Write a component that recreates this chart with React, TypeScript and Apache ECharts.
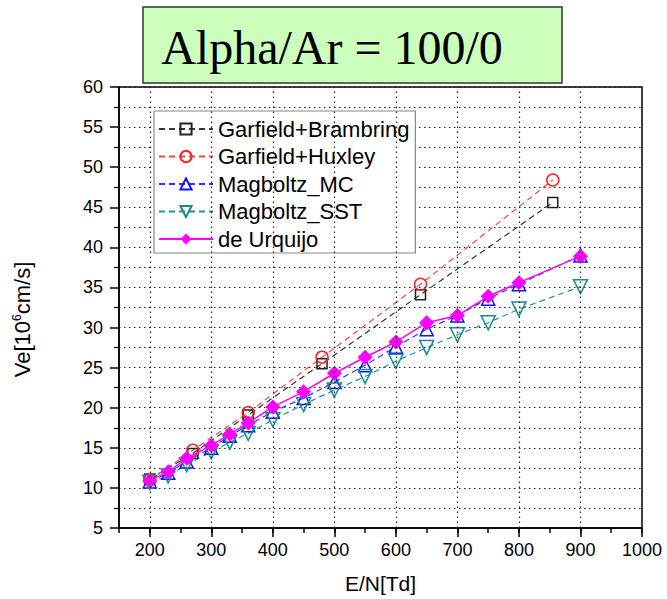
import React, { useEffect, useRef } from "react";
import * as echarts from "echarts";

const xMagboltz = [200, 230, 260, 300, 330, 360, 400, 450, 500, 550, 600, 650, 700, 750, 800, 900];
const deUrquijo = [10.9, 12.0, 13.7, 15.3, 16.7, 18.1, 20.1, 22.0, 24.3, 26.3, 28.2, 30.6, 31.5, 33.9, 35.6, 38.9];
const magboltzMC = [10.8, 11.9, 13.3, 15.0, 16.5, 17.8, 19.5, 21.2, 23.2, 25.3, 27.6, 29.8, 31.5, 33.6, 35.4, 39.0];
const magboltzSST = [10.7, 11.5, 12.9, 14.5, 15.7, 16.8, 18.5, 20.4, 22.2, 23.9, 25.8, 27.5, 29.1, 30.6, 32.3, 35.1];

const xGarfield = [200, 270, 360, 480, 640, 855];
const garfieldBrambring = [11.1, 14.3, 19.1, 25.5, 34.1, 45.6];
const garfieldHuxley = [11.0, 14.7, 19.4, 26.3, 35.4, 48.4];

const xGridValues = [200, 300, 400, 500, 600, 700, 800, 900];
const xMajorTicks = [200, 300, 400, 500, 600, 700, 800, 900, 1000];
const seriesNames = ["Garfield+Brambring", "Garfield+Huxley", "Magboltz_MC", "Magboltz_SST", "de Urquijo"];
const titleText = "Alpha/Ar = 100/0";

const zip = (xs: number[], ys: number[]) => xs.map((x, i) => [x, ys[i]]);

export default function App() {
  const ref = useRef<HTMLDivElement>(null);
  useEffect(() => {
    if (!ref.current) return;
    const chart = echarts.init(ref.current, null, { renderer: "svg" });
    const sans = "Liberation Sans, Arial, sans-serif";
    const hollow = (c: string) => ({ color: "rgba(255,255,255,0)", borderColor: c, borderWidth: 1.5 });
    chart.setOption({
      animation: false,
      backgroundColor: "#fff",
      graphic: [
        {
          type: "rect",
          shape: { x: 143, y: 7, width: 419, height: 76 },
          style: { fill: "#ccffbb", stroke: "#333", lineWidth: 1.5 },
          z: 10,
        },
        {
          type: "text",
          x: 332,
          y: 47,
          style: {
            text: titleText,
            font: "48px 'Liberation Serif', 'Times New Roman', serif",
            fill: "#000",
            align: "center",
            verticalAlign: "middle",
          },
          z: 11,
        },
      ],
      grid: {
        left: 119,
        right: 25,
        top: 87,
        bottom: 69,
        show: true,
        borderColor: "#000",
        borderWidth: 1.5,
      },
      legend: {
        data: seriesNames,
        orient: "vertical",
        left: 154,
        top: 111,
        itemWidth: 54,
        itemHeight: 14,
        itemGap: 5.5,
        padding: [7, 6, 3, 4],
        backgroundColor: "#fff",
        borderColor: "#888",
        borderWidth: 1.2,
        textStyle: { fontFamily: sans, fontSize: 22, color: "#000", lineHeight: 21 },
      },
      xAxis: [
        {
          type: "value",
          min: 150,
          max: 1000,
          interval: 50,
          name: "E/N[Td]",
          nameLocation: "middle",
          nameGap: 45,
          nameTextStyle: { fontFamily: sans, fontSize: 21, color: "#000" },
          axisLine: { show: true, lineStyle: { color: "#000", width: 1.5 } },
          axisTick: { show: true, length: 5, lineStyle: { color: "#000", width: 1.5 } },
          axisLabel: {
            fontFamily: sans,
            fontSize: 18,
            color: "#000",
            margin: 13,
            formatter: (v: number) => (v % 100 === 0 ? String(v) : ""),
          },
          splitLine: { show: false },
        },
        {
          type: "value",
          position: "bottom",
          min: 150,
          max: 1000,
          interval: 50,
          axisLine: { show: false },
          axisTick: { show: true, length: 9, customValues: xMajorTicks, lineStyle: { color: "#000", width: 1.5 } },
          axisLabel: { show: false },
          splitLine: { show: false },
        },
      ],
      yAxis: {
        type: "value",
        min: 5,
        max: 60,
        interval: 5,
        name: "Ve[10{sup|6}cm/s]",
        nameLocation: "middle",
        nameGap: 86,
        nameTextStyle: {
          fontFamily: sans,
          fontSize: 22,
          color: "#000",
          padding: [0, 24, 0, 0],
          rich: {
            sup: { fontFamily: sans, fontSize: 12, color: "#000", padding: [0, 0, 10, 0] },
          },
        },
        axisLine: { show: true, lineStyle: { color: "#000", width: 1.5 } },
        axisTick: { show: true, length: 9, lineStyle: { color: "#000", width: 1.5 } },
        minorTick: { show: true, splitNumber: 2, length: 5, lineStyle: { color: "#000", width: 1.2 } },
        axisLabel: { fontFamily: sans, fontSize: 18, color: "#000", margin: 16 },
        splitLine: { show: true, lineStyle: { color: "#222", type: [1.5, 3.5], width: 1.2 } },
        minorSplitLine: { show: true, lineStyle: { color: "#222", type: [1.5, 3.5], width: 1.2 } },
      },
      series: [
        {
          type: "line",
          name: "gridX",
          data: [],
          silent: true,
          z: 1,
          markLine: {
            silent: true,
            symbol: ["none", "none"],
            label: { show: false },
            lineStyle: { color: "#222", type: [1.5, 3.5], width: 1.2 },
            data: xGridValues.map((v) => ({ xAxis: v })),
          },
        },
        {
          type: "line",
          name: seriesNames[0],
          data: zip(xGarfield, garfieldBrambring),
          color: "#222",
          symbol: "rect",
          symbolSize: 10,
          itemStyle: hollow("#222"),
          lineStyle: { color: "#333", type: [6, 4], width: 1.2 },
          z: 3,
        },
        {
          type: "line",
          name: seriesNames[1],
          data: zip(xGarfield, garfieldHuxley),
          color: "#ff2020",
          symbol: "circle",
          symbolSize: 12,
          itemStyle: hollow("#ff2020"),
          lineStyle: { color: "#ff4040", type: [6, 4], width: 1.2 },
          z: 3,
        },
        {
          type: "line",
          name: seriesNames[2],
          data: zip(xMagboltz, magboltzMC),
          color: "#1010ff",
          symbol: "triangle",
          symbolSize: 13,
          itemStyle: hollow("#1010ff"),
          lineStyle: { color: "#3030ff", type: [6, 4], width: 1.2 },
          z: 3,
        },
        {
          type: "line",
          name: seriesNames[3],
          data: zip(xMagboltz, magboltzSST),
          color: "#1a8a8a",
          symbol: "triangle",
          symbolRotate: 180,
          symbolSize: 14,
          itemStyle: hollow("#1a8a8a"),
          lineStyle: { color: "#2a9090", type: [6, 4], width: 1.2 },
          z: 3,
        },
        {
          type: "line",
          name: seriesNames[4],
          data: zip(xMagboltz, deUrquijo),
          color: "#ff00ff",
          symbol: "diamond",
          symbolSize: 15,
          itemStyle: { color: "#ff00ff" },
          lineStyle: { color: "#ff00ff", width: 1.5 },
          z: 4,
        },
      ],
    });
    return () => chart.dispose();
  }, []);
  return (
    <div
      ref={ref}
      style={{ position: "fixed", left: 0, top: 0, width: 667, height: 599, background: "#fff" }}
    />
  );
}
